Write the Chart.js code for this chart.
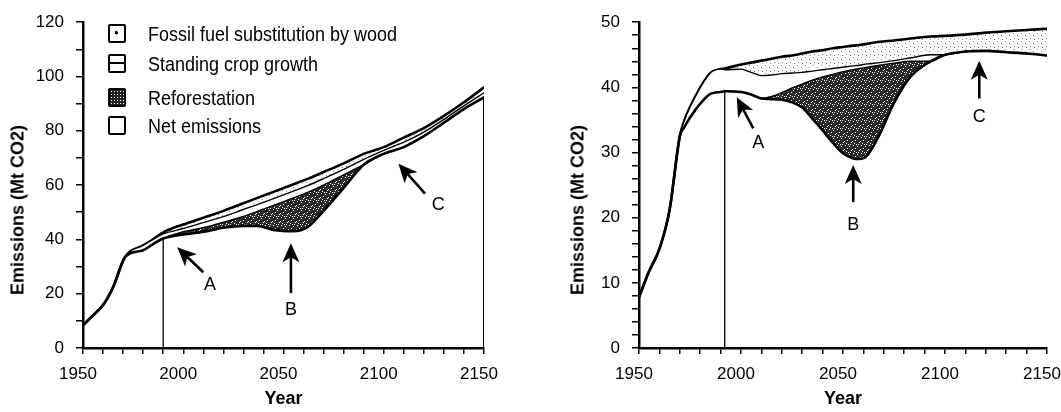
<!DOCTYPE html>
<html lang="en">
  <head>
    <meta charset="UTF-8" />
    <title>Emissions (Mt CO2)</title>
    <style>
      body { margin: 0; background: #fff; overflow: hidden; font-family: "Liberation Sans", Arial, sans-serif; }
      .wrap { position: relative; width: 1061px; height: 412px; overflow: hidden; }
      canvas { position: absolute; top: 0; }
      #chartL { left: 0; }
      #chartR { left: 540px; }
      .ytitle {
        position: absolute; font-weight: bold; font-size: 18px; white-space: nowrap;
        transform: translate(-50%, -50%) rotate(-90deg);
      }
      .legend-row { position: absolute; left: 0; height: 22px; line-height: 22px; font-size: 18px; }
      .legend-row .box {
        position: absolute; left: 108px; top: 1px; width: 14px; height: 15px;
        border: 2px solid #000; border-radius: 2px; background: #fff;
      }
      .legend-row .txt { position: absolute; left: 148px; white-space: nowrap; transform: scaleY(1.12); }
      .box.fossil { background: radial-gradient(circle at 45% 45%, #000 1.4px, #fff 2px); }
      .box.crop { background: linear-gradient(#fff 0 6px, #000 6px 8px, #fff 8px); }
      .box.refor { background-color: #222; background-image: radial-gradient(#fff 0.7px, transparent 1px); background-size: 3px 3px; }
    </style>
  </head>
  <body>
    <div class="wrap">
      <canvas id="chartL" width="520" height="412"></canvas>
      <canvas id="chartR" width="540" height="412"></canvas>
      <div class="ytitle" style="left: 18px; top: 210px">Emissions (Mt CO2)</div>
      <div class="ytitle" style="left: 578px; top: 210px">Emissions (Mt CO2)</div>
      <div class="legend-row" style="top: 23px"><span class="box fossil"></span><span class="txt">Fossil fuel substitution by wood</span></div>
      <div class="legend-row" style="top: 53px"><span class="box crop"></span><span class="txt">Standing crop growth</span></div>
      <div class="legend-row" style="top: 87px"><span class="box refor"></span><span class="txt">Reforestation</span></div>
      <div class="legend-row" style="top: 115px"><span class="box"></span><span class="txt">Net emissions</span></div>
    </div>
    <script src="https://cdn.jsdelivr.net/npm/chart.js"></script>
    <script>
      // left panel: boundaries of the stacked areas (Mt CO2)
      const yearsL = [1950, 1955, 1960, 1965, 1971, 1980, 1985, 1990, 2000, 2010, 2020, 2030, 2037,
        2045, 2055, 2062, 2070, 2080, 2090, 2100, 2110, 2120, 2130, 2140, 2150];
      const netL = [8.4, 12, 15.8, 22.4, 33.5, 36, 38.3, 40.3, 41.8, 42.8, 44.3, 45, 45,
        43.5, 43, 44.5, 50.5, 59, 67.5, 71.5, 74, 78, 83, 88, 92.3];
      const reforL = [8.4, 12, 15.8, 22.4, 33.5, 36, 38.3, 40.3, 42.8, 44.3, 46.3, 48.5, 50.3,
        52.5, 55.3, 57.3, 60, 63.8, 67.5, 71.5, 74, 78, 83, 88, 92.3];
      const cropL = [8.4, 12, 15.8, 22.4, 33.5, 37.8, 40, 42, 44, 46.2, 48.4, 51, 52.8,
        55, 57.8, 59.8, 62.4, 65.8, 69.5, 72.8, 75.8, 79.5, 84.2, 89.2, 94];
      const totalL = [8.4, 12, 15.8, 22.4, 33.5, 37.8, 40, 42.6, 45.5, 48, 50.5, 53.3, 55.3,
        57.5, 60.3, 62.3, 64.8, 68, 71.5, 74, 77.5, 81, 85.5, 90.5, 96];

      // right panel
      const yearsR = [1950, 1955, 1960, 1965, 1970, 1972, 1978, 1985, 1990, 1992, 2000, 2005, 2010,
        2015, 2020, 2025, 2030, 2035, 2040, 2045, 2050, 2055, 2058, 2062, 2068, 2075, 2083, 2093,
        2100, 2110, 2120, 2130, 2140, 2150];
      const netR = [7.8, 11.8, 15.2, 21.2, 32.5, 33.8, 36.7, 39, 39.3, 39.4, 39.3, 38.9, 38.3,
        38.2, 38.1, 37.7, 36.9, 35.2, 33.4, 31.5, 29.9, 29.1, 29, 29.6, 32.8, 37.6, 41.6, 44,
        45, 45.5, 45.6, 45.4, 45.2, 44.9];
      const reforR = [7.8, 11.8, 15.2, 21.2, 32.5, 33.8, 36.7, 39, 39.3, 39.4, 39.3, 38.9, 38.3,
        38.6, 39.2, 39.9, 40.5, 41.1, 41.6, 42, 42.4, 42.7, 42.9, 43.1, 43.4, 43.7, 44, 44,
        45, 45.5, 45.6, 45.4, 45.2, 44.9];
      const cropR = [7.8, 11.8, 15.2, 21.2, 32.5, 34.7, 38.8, 42.2, 42.8, 42.7, 42.8, 42.3, 41.8,
        41.9, 42.1, 42.2, 42.3, 42.5, 42.7, 42.9, 43.1, 43.3, 43.4, 43.6, 43.8, 44.1, 44.5, 45,
        45, 45.5, 45.6, 45.4, 45.2, 44.9];
      const totalR = [7.8, 11.8, 15.2, 21.2, 32.5, 34.7, 38.8, 42.2, 42.8, 42.9, 43.5, 43.8, 44.1,
        44.4, 44.7, 44.9, 45.2, 45.5, 45.7, 46, 46.2, 46.4, 46.5, 46.7, 47, 47.2, 47.5, 47.8,
        47.9, 48.1, 48.4, 48.6, 48.8, 49];

      const refYearL = 1990;
      const refYearR = 1992;
      const refLevelR = 40;
      const refSpanR = [1987, 2019];

      // arrows: tail, head, letter position (in data units)
      const arrowsL = [
        { label: "A", from: [2010, 27.9], to: [1997, 37.1], text: [2013.3, 23.2] },
        { label: "B", from: [2053.7, 20.2], to: [2053.7, 38.6], text: [2053.7, 14] },
        { label: "C", from: [2120.6, 56.9], to: [2107.3, 67.9], text: [2127.2, 52.6] }
      ];
      const arrowsR = [
        { label: "A", from: [2006, 33.7], to: [1997.9, 38.5], text: [2008.5, 31.4] },
        { label: "B", from: [2055, 22.4], to: [2055, 28.1], text: [2055, 18.9] },
        { label: "C", from: [2116.8, 38.3], to: [2116.8, 44.1], text: [2116.8, 35.5] }
      ];

      Chart.defaults.font.family = '"Liberation Sans", Arial, Helvetica, sans-serif';
      Chart.defaults.color = "#000";

      function makePattern(bg, fg, dots, size) {
        const c = document.createElement("canvas");
        c.width = c.height = size;
        const g = c.getContext("2d");
        g.fillStyle = bg;
        g.fillRect(0, 0, size, size);
        g.fillStyle = fg;
        dots.forEach(d => g.fillRect(d[0], d[1], d[2] || 1, d[2] || 1));
        return g.createPattern(c, "repeat");
      }
      const darkFill = makePattern("#2a2a2a", "#fff",
        [[1, 1], [5, 2], [3, 4], [7, 6], [0, 5], [6, 0], [2, 7], [4, 0]], 8);
      const lightFill = makePattern("#fff", "#888", [[1, 1], [5, 3], [2, 6], [6, 7]], 8);

      function pts(xs, ys) {
        return xs.map((x, i) => ({ x: x, y: ys[i] }));
      }

      const arrowPlugin = {
        id: "arrows",
        afterDatasetsDraw(chart, args, opts) {
          const { ctx } = chart;
          const sx = chart.scales.x, sy = chart.scales.y;
          ctx.save();
          ctx.strokeStyle = "#000";
          ctx.fillStyle = "#000";
          ctx.lineWidth = 2.6;
          ctx.font = '18px "Liberation Sans", Arial, sans-serif';
          ctx.textAlign = "center";
          ctx.textBaseline = "middle";
          opts.items.forEach(a => {
            const x0 = sx.getPixelForValue(a.from[0]), y0 = sy.getPixelForValue(a.from[1]);
            const x1 = sx.getPixelForValue(a.to[0]), y1 = sy.getPixelForValue(a.to[1]);
            const ang = Math.atan2(y1 - y0, x1 - x0);
            const c = Math.cos(ang), s = Math.sin(ang);
            const len = 19, half = 8.5, notch = 5;
            const bx = x1 - len * c, by = y1 - len * s;
            ctx.beginPath();
            ctx.moveTo(x0, y0);
            ctx.lineTo(bx + notch * c, by + notch * s);
            ctx.stroke();
            ctx.beginPath();
            ctx.moveTo(x1, y1);
            ctx.lineTo(bx + half * s, by - half * c);
            ctx.lineTo(bx + notch * c, by + notch * s);
            ctx.lineTo(bx - half * s, by + half * c);
            ctx.closePath();
            ctx.fill();
            ctx.fillText(a.label, sx.getPixelForValue(a.text[0]), sy.getPixelForValue(a.text[1]));
          });
          ctx.restore();
        }
      };

      function areaSets(years, net, refor, crop, total) {
        const common = { pointRadius: 0, borderColor: "#000", cubicInterpolationMode: "monotone",
          borderJoinStyle: "round", borderCapStyle: "round" };
        return [
          Object.assign({ label: "Net emissions", data: pts(years, net), borderWidth: 2.6, fill: false }, common),
          Object.assign({ label: "Reforestation", data: pts(years, refor), borderWidth: 1.4,
            fill: "-1", backgroundColor: darkFill }, common),
          Object.assign({ label: "Standing crop growth", data: pts(years, crop), borderWidth: 1.4,
            fill: "-1", backgroundColor: "#fff" }, common),
          Object.assign({ label: "Fossil fuel substitution by wood", data: pts(years, total), borderWidth: 2.6,
            fill: "-1", backgroundColor: lightFill }, common)
        ];
      }

      function plainLine(data, width) {
        return { data: data, borderColor: "#000", borderWidth: width, pointRadius: 0, tension: 0, fill: false };
      }

      function createChart(id, o) {
        return new Chart(document.getElementById(id), {
          type: "line",
          data: { datasets: o.datasets },
          options: {
            responsive: false,
            animation: false,
            devicePixelRatio: 1,
            layout: { padding: { top: o.top, right: o.right, left: 0, bottom: 0 } },
            plugins: {
              legend: { display: false },
              tooltip: { enabled: false },
              arrows: { items: o.arrows }
            },
            scales: {
              x: {
                type: "linear",
                min: 1950,
                max: 2150,
                afterFit: s => { s.height = 64; },
                ticks: {
                  stepSize: 10, autoSkip: false, maxRotation: 0, padding: 10, labelOffset: -5,
                  font: { size: 17 },
                  callback: v => (v % 50 === 0 ? String(v) : "")
                },
                grid: { drawOnChartArea: false, tickLength: 6, color: "#000", lineWidth: 1.5 },
                border: { color: "#000", width: 2.5 },
                title: { display: true, text: "Year", font: { size: 18, weight: "bold" }, padding: { top: 0, bottom: 2 } }
              },
              y: {
                min: 0,
                max: o.ymax,
                afterFit: s => { s.width = o.left; },
                ticks: {
                  stepSize: o.ystep, autoSkip: false, padding: 12,
                  font: { size: 17 },
                  callback: v => (v % o.ylab === 0 ? String(v) : "")
                },
                grid: { drawOnChartArea: false, tickLength: 7, color: "#000", lineWidth: 1.5 },
                border: { color: "#000", width: 2.5 }
              }
            }
          },
          plugins: [arrowPlugin]
        });
      }

      const setsL = areaSets(yearsL, netL, reforL, cropL, totalL);
      setsL.push(plainLine([{ x: refYearL, y: 0 }, { x: refYearL, y: netL[yearsL.indexOf(refYearL)] }], 1.3));
      setsL.push(plainLine([{ x: 2150, y: 0 }, { x: 2150, y: totalL[totalL.length - 1] }], 2));

      const setsR = areaSets(yearsR, netR, reforR, cropR, totalR);
      setsR.push(plainLine([{ x: refYearR, y: 0 }, { x: refYearR, y: totalR[yearsR.indexOf(refYearR)] }], 1.3));
      setsR.push(plainLine([{ x: refSpanR[0], y: refLevelR }, { x: refSpanR[1], y: refLevelR }], 1.3));
      setsR.push(plainLine([{ x: 2150, y: netR[netR.length - 1] }, { x: 2150, y: totalR[totalR.length - 1] }], 2));

      createChart("chartL", { datasets: setsL, top: 22, right: 36, left: 83, ymax: 120, ystep: 10, ylab: 20, arrows: arrowsL });
      createChart("chartR", { datasets: setsR, top: 19.5, right: 33, left: 99, ymax: 50, ystep: 2, ylab: 10, arrows: arrowsR });
    </script>
  </body>
</html>
